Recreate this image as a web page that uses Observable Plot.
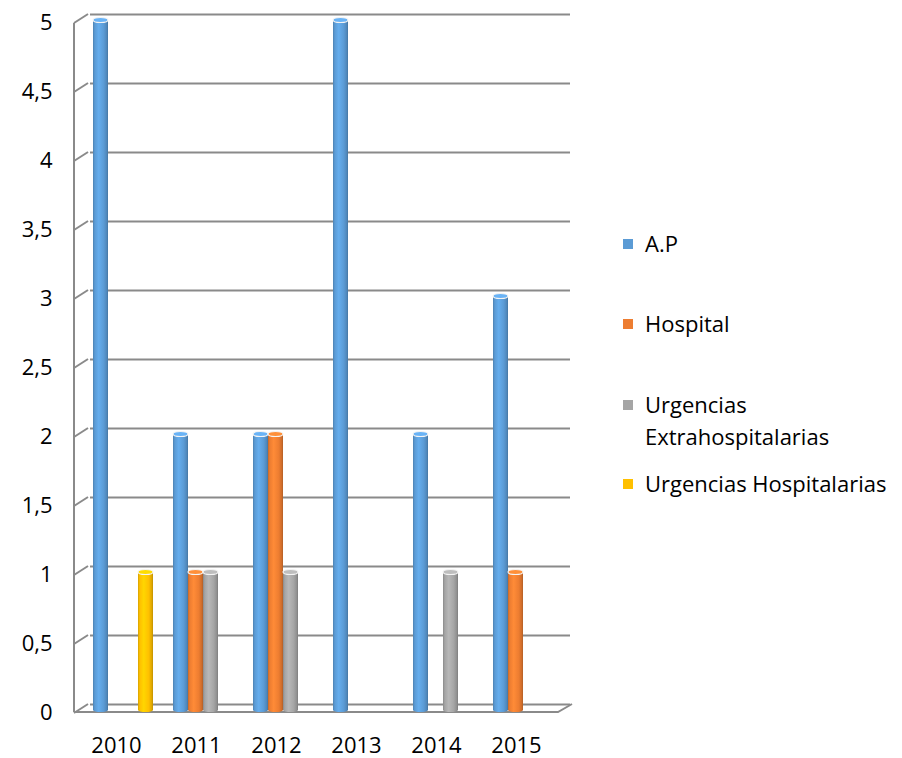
<!DOCTYPE html>
<html><head><meta charset="utf-8">
<script src="https://cdn.jsdelivr.net/npm/d3@7"></script>
<script src="https://cdn.jsdelivr.net/npm/@observablehq/plot@0.6"></script>
<style>
body{margin:0;background:#fff;}
#wrap{position:relative;width:902px;height:758px;font-family:"Open Sans",sans-serif;}
#legend{position:absolute;left:0;top:0;}
.item{position:absolute;white-space:nowrap;font-size:22px;line-height:32px;color:#000;}
.sw{position:absolute;width:10px;height:10px;}
</style></head><body><div id="wrap"></div>
<script>
const years = ["2010","2011","2012","2013","2014","2015"];
const series = ["A.P","Hospital","Urgencias Extrahospitalarias","Urgencias Hospitalarias"];
const apValues = [5,2,2,5,2,3];
const hospitalValues = [0,1,2,0,0,1];
const urgExtraValues = [0,1,1,0,1,0];
const urgHospValues = [1,0,0,0,0,0];
const seriesColors = ["#5B9BD5","#ED7D31","#A5A5A5","#FFC000"];
const yTicks = [0,0.5,1,1.5,2,2.5,3,3.5,4,4.5,5];
const yTickLabels = ["0","0,5","1","1,5","2","2,5","3","3,5","4","4,5","5"];
const legendLines = [["A.P"],["Hospital"],["Urgencias","Extrahospitalarias"],["Urgencias Hospitalarias"]];

const valuesBySeries = [apValues,hospitalValues,urgExtraValues,urgHospValues];
const data = years.flatMap((yr,i)=>series.map((s,j)=>({year:yr,series:s,value:valuesBySeries[j][i]})));

const plot = Plot.plot({
  width:902, height:758,
  marginLeft:81, marginRight:337, marginTop:20, marginBottom:48,
  style:{fontFamily:"'Open Sans', sans-serif", fontSize:"22px", color:"#000", background:"transparent", overflow:"visible"},
  fx:{domain:years, padding:0, label:null},
  x:{domain:series, axis:null, paddingInner:0.03, paddingOuter:0.6},
  y:{domain:[0,5]},
  color:{domain:series, range:seriesColors},
  marks:[
    Plot.ruleY(yTicks, {stroke:"#8a8a8a", strokeWidth:2, dx:7, dy:-6}),
    Plot.barY(data, {fx:"year", x:"series", y:"value", fill:"series", filter:d=>d.value>0}),
    Plot.axisY({ticks:yTicks, tickFormat:d=>yTickLabels[yTicks.indexOf(d)], tickSize:0, tickPadding:31, dy:2, fontSize:22, label:null}),
    Plot.axisFx({anchor:"bottom", tickSize:0, tickPadding:27, dx:-7, fontSize:22, label:null})
  ]
});

const wrap = document.getElementById("wrap");
wrap.appendChild(plot);

// cylinder shading
const svgNS = "http://www.w3.org/2000/svg";
const defs = document.createElementNS(svgNS,"defs");
seriesColors.forEach((c,i)=>{
  const base = d3.color(c);
  const g = document.createElementNS(svgNS,"linearGradient");
  g.setAttribute("id","cyl"+i);
  g.setAttribute("x1","0");g.setAttribute("x2","1");g.setAttribute("y1","0");g.setAttribute("y2","0");
  [[0,base.darker(0.5)],[0.12,base],[0.38,base.brighter(0.3)],[0.72,base],[0.92,base.darker(0.4)],[1,base.darker(0.8)]].forEach(([o,col])=>{
    const s=document.createElementNS(svgNS,"stop");
    s.setAttribute("offset",o);s.setAttribute("stop-color",col.formatHex());
    g.appendChild(s);
  });
  defs.appendChild(g);
});
plot.insertBefore(defs, plot.firstChild);

plot.querySelectorAll('g[aria-label="bar"] rect').forEach(r=>{
  const f = d3.color(r.getAttribute("fill") || r.parentNode.getAttribute("fill"));
  const idx = seriesColors.findIndex(c=>d3.color(c).formatHex()===(f?f.formatHex():""));
  if (idx<0) return;
  r.setAttribute("fill","url(#cyl"+idx+")");
  const x=+r.getAttribute("x"), y=+r.getAttribute("y"), w=+r.getAttribute("width"), h=+r.getAttribute("height");
  const bottom = document.createElementNS(svgNS,"ellipse");
  bottom.setAttribute("cx",x+w/2);bottom.setAttribute("cy",y+h);bottom.setAttribute("rx",w/2);bottom.setAttribute("ry",2);
  bottom.setAttribute("fill","url(#cyl"+idx+")");
  r.parentNode.appendChild(bottom);
  const cap = document.createElementNS(svgNS,"ellipse");
  cap.setAttribute("cx",x+w/2);cap.setAttribute("cy",y);cap.setAttribute("rx",w/2);cap.setAttribute("ry",2.5);
  cap.setAttribute("fill",d3.color(seriesColors[idx]).brighter(0.4).formatHex());
  cap.setAttribute("stroke","#f4f4f4");cap.setAttribute("stroke-width","1.2");
  r.parentNode.appendChild(cap);
});

// 3D wall/floor edges derived from the plot's scales
const ys = plot.scale("y"), fxs = plot.scale("fx");
const yy = v=>ys.apply(v);
const left = fxs.range[0]-7, right = fxs.range[1]+7, depth = 14;
const frame = d3.create("svg:g").attr("stroke","#8a8a8a").attr("stroke-width",2).attr("fill","none");
frame.append("line").attr("x1",left).attr("x2",left).attr("y1",yy(5)+3).attr("y2",yy(0)+2);
yTicks.forEach(t=>{
  frame.append("line").attr("x1",left).attr("y1",yy(t)+3).attr("x2",left+depth).attr("y2",yy(t)-6);
});
frame.append("path").attr("d",`M${left},${yy(0)+2}L${right-depth},${yy(0)+2}L${right},${yy(0)-6}`);
const styleEl = plot.querySelector("style");
plot.insertBefore(frame.node(), styleEl ? styleEl.nextSibling : plot.firstChild);

// legend
const legend = document.createElement("div");
legend.id="legend";
const centers = [244,324,405,484];
legendLines.forEach((lines,i)=>{
  const sw=document.createElement("div");
  sw.className="sw";sw.style.background=seriesColors[i];
  sw.style.left="623px";sw.style.top=(centers[i]-5)+"px";
  legend.appendChild(sw);
  lines.forEach((t,k)=>{
    const it=document.createElement("div");
    it.className="item";it.textContent=t;
    it.style.left="645px";it.style.top=(centers[i]-17+k*32)+"px";
    legend.appendChild(it);
  });
});
wrap.appendChild(legend);
</script></body></html>
